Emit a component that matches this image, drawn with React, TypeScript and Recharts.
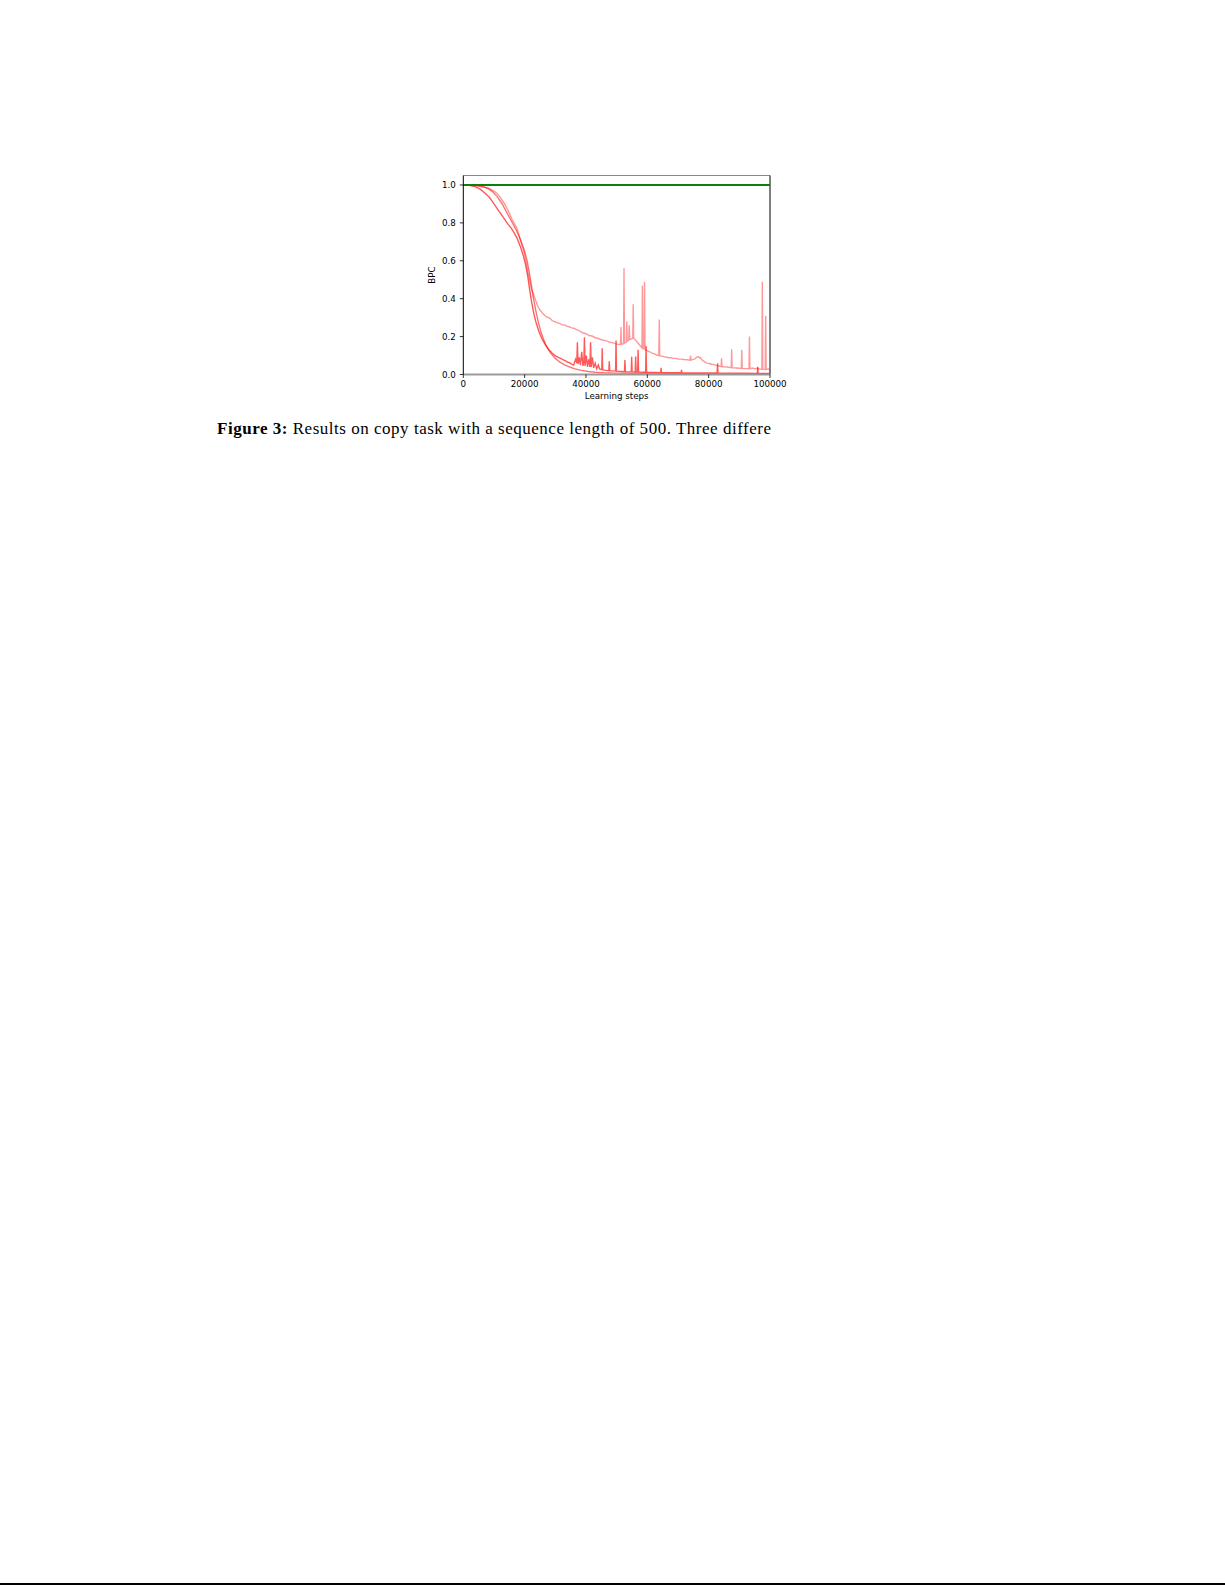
import React from 'react';
import { LineChart, Line, XAxis, YAxis, ReferenceLine, Label } from 'recharts';

// ---- tick labels ----
const xTicks = [0, 20000, 40000, 60000, 80000, 100000];
const yTicks = [0, 0.2, 0.4, 0.6, 0.8, 1.0];

// ---- series: [learning step, BPC] ----
const runA: [number, number][] = [
  [0, 1.0], [3000, 0.998], [6000, 0.992], [8000, 0.984], [9800, 0.97], [11000, 0.955],
  [12000, 0.936], [13000, 0.912], [14000, 0.885], [15000, 0.852], [16000, 0.815],
  [17400, 0.775], [18200, 0.735], [19000, 0.69], [19800, 0.645], [20400, 0.6],
  [21000, 0.545], [21600, 0.5], [22200, 0.45], [22800, 0.427], [23600, 0.39],
  [24300, 0.36], [25000, 0.34], [26000, 0.32], [27000, 0.305], [28300, 0.296],
  [29000, 0.284], [29800, 0.279], [30600, 0.272], [31400, 0.27], [32200, 0.262],
  [33000, 0.262], [33700, 0.255], [34500, 0.252], [35300, 0.246], [36100, 0.244],
  [37000, 0.235], [37800, 0.232], [38500, 0.224], [39100, 0.219], [40000, 0.215],
  [41000, 0.206], [42000, 0.203], [43000, 0.194], [44000, 0.19], [44600, 0.186],
  [45400, 0.182], [46200, 0.179], [47000, 0.176], [47800, 0.17], [48600, 0.168],
  [49500, 0.163], [50200, 0.16], [51000, 0.158], [51250, 0.16], [51400, 0.25],
  [51550, 0.16], [52250, 0.162], [52400, 0.56], [52550, 0.165], [53150, 0.17],
  [53300, 0.28], [53450, 0.175], [53950, 0.18], [54100, 0.26], [54250, 0.185],
  [55250, 0.19], [55400, 0.37], [55550, 0.19], [56000, 0.185], [57000, 0.165],
  [58000, 0.145], [58250, 0.14], [58400, 0.47], [58550, 0.138], [58950, 0.135],
  [59100, 0.49], [59250, 0.132], [60000, 0.125], [60800, 0.12], [61500, 0.113],
  [62200, 0.11], [63000, 0.103], [63750, 0.1], [63900, 0.29], [64050, 0.099],
  [64800, 0.097], [65500, 0.093], [66200, 0.092], [67000, 0.088], [67700, 0.088],
  [68500, 0.085], [69300, 0.085], [70000, 0.082], [71000, 0.081], [72000, 0.079],
  [73000, 0.078], [73950, 0.076], [74100, 0.1], [74250, 0.076], [75500, 0.082],
  [76000, 0.09], [76600, 0.095], [77000, 0.088], [77300, 0.09], [77800, 0.078],
  [78200, 0.072], [79400, 0.06], [80200, 0.058], [81000, 0.054], [81800, 0.052],
  [82500, 0.048], [83300, 0.046], [84050, 0.042], [84200, 0.085], [84350, 0.042],
  [85500, 0.04], [86400, 0.038], [87350, 0.036], [87500, 0.133], [87650, 0.036],
  [89000, 0.034], [90650, 0.032], [90800, 0.13], [90950, 0.032], [92000, 0.031],
  [93150, 0.03], [93300, 0.2], [93450, 0.03], [94200, 0.034], [95000, 0.03],
  [95800, 0.033], [96500, 0.029], [97350, 0.028], [97500, 0.49], [97650, 0.028],
  [98450, 0.027], [98600, 0.31], [98750, 0.026], [99400, 0.03], [100000, 0.022],
];

const runB: [number, number][] = [
  [0, 1.0], [2000, 0.998], [4000, 0.99], [5500, 0.978], [7000, 0.958], [8500, 0.935],
  [10000, 0.9], [11500, 0.865], [13000, 0.83], [14500, 0.795], [15500, 0.775],
  [16500, 0.75], [17500, 0.72], [18500, 0.68], [19500, 0.63], [20300, 0.58],
  [21000, 0.52], [21600, 0.45], [22300, 0.38], [23000, 0.32], [23800, 0.27],
  [24600, 0.23], [25600, 0.19], [26800, 0.155], [28000, 0.13], [29000, 0.112],
  [29900, 0.1], [31000, 0.09], [32500, 0.078], [33300, 0.072], [34000, 0.065],
  [34600, 0.062], [35300, 0.055], [36000, 0.05], [36600, 0.08], [37000, 0.06],
  [37200, 0.17], [37400, 0.055], [37800, 0.09], [38200, 0.05], [38600, 0.12],
  [39000, 0.045], [39300, 0.07], [39500, 0.196], [39700, 0.045], [40100, 0.1],
  [40500, 0.04], [40900, 0.08], [41300, 0.04], [41500, 0.17], [41700, 0.04],
  [42100, 0.09], [42500, 0.035], [43000, 0.06], [43500, 0.03], [44000, 0.05],
  [44500, 0.028], [45150, 0.026], [45300, 0.138], [45450, 0.025], [46500, 0.022],
  [47450, 0.02], [47600, 0.07], [47750, 0.02], [49650, 0.018], [49800, 0.18],
  [49950, 0.018], [51500, 0.016], [52550, 0.015], [52700, 0.076], [52850, 0.015],
  [54750, 0.014], [54900, 0.094], [55050, 0.014], [56050, 0.013], [56200, 0.095],
  [56350, 0.013], [56850, 0.013], [57000, 0.13], [57150, 0.013], [59450, 0.012],
  [59600, 0.15], [59750, 0.012], [62000, 0.011], [64350, 0.01], [64500, 0.035],
  [64650, 0.01], [68000, 0.009], [71000, 0.009], [71150, 0.025], [71300, 0.009],
  [75000, 0.008], [80000, 0.008], [82750, 0.008], [82900, 0.059], [83050, 0.008],
  [88000, 0.007], [92000, 0.007], [95850, 0.006], [96000, 0.04], [96150, 0.006],
  [100000, 0.005],
];

const runC: [number, number][] = [
  [0, 1.0], [4000, 0.998], [6000, 0.993], [8000, 0.982], [9500, 0.965], [11000, 0.94],
  [12500, 0.905], [14000, 0.86], [15500, 0.815], [17000, 0.77], [18000, 0.735],
  [19000, 0.695], [20000, 0.65], [20800, 0.6], [21500, 0.54], [22200, 0.47],
  [22900, 0.4], [23600, 0.34], [24400, 0.28], [25300, 0.225], [26300, 0.18],
  [27400, 0.14], [28600, 0.11], [30000, 0.085], [31500, 0.065], [33200, 0.05],
  [35000, 0.038], [36400, 0.03], [38500, 0.022], [40800, 0.016], [43000, 0.012],
  [46000, 0.009], [50000, 0.007], [55000, 0.006], [60000, 0.005], [70000, 0.004],
  [80000, 0.003], [90000, 0.003], [100000, 0.002],
];

const baseline: [number, number][] = [[0, 1.0], [100000, 1.0]];

const toRows = (pts: [number, number][]) => pts.map(([step, bpc]) => ({ step, bpc }));

const tickFont = { fontSize: 8.7, fill: '#000', fontFamily: 'DejaVu Sans' };

export default function App() {
  return (
    <div style={{ position: 'absolute', left: 0, top: 0, width: 1225, height: 1585, background: '#fff' }}>
      <div style={{ position: 'absolute', left: 400, top: 150 }}>
        <LineChart width={400} height={260} margin={{ top: 25.5, right: 30, bottom: 5.5, left: 0 }}>
          <XAxis
            dataKey="step"
            type="number"
            domain={[0, 100000]}
            ticks={xTicks}
            interval={0}
            height={30}
            tickSize={3.5}
            tickMargin={3}
            tick={tickFont}
            tickLine={{ stroke: '#000', strokeWidth: 0.8 }}
            axisLine={{ stroke: '#999', strokeWidth: 2 }}
            allowDataOverflow
          >
            <Label value="Learning steps" position="insideBottom" offset={5.5} style={{ fontSize: 8.7, fill: '#000', fontFamily: 'DejaVu Sans' }} />
          </XAxis>
          <YAxis
            dataKey="bpc"
            type="number"
            domain={[0, 1.05]}
            ticks={yTicks}
            interval={0}
            width={63.3}
            tickSize={3.5}
            tickMargin={4}
            tick={tickFont}
            tickFormatter={(v: number) => v.toFixed(1)}
            tickLine={{ stroke: '#000', strokeWidth: 0.8 }}
            axisLine={{ stroke: '#000', strokeWidth: 1 }}
            allowDataOverflow
          >
            <Label value="BPC" position="center" angle={-90} style={{ fontSize: 8.7, fill: '#000', fontFamily: 'DejaVu Sans' }} />
          </YAxis>
          <ReferenceLine y={1.05} stroke="#888" strokeWidth={1} />
          <ReferenceLine x={100000} stroke="#000" strokeWidth={1} />
          <Line data={toRows(runA)} dataKey="bpc" type="linear" stroke="#ff0000" strokeOpacity={0.4} strokeWidth={1.4} dot={false} activeDot={false} isAnimationActive={false} />
          <Line data={toRows(runC)} dataKey="bpc" type="linear" stroke="#ff0000" strokeOpacity={0.55} strokeWidth={1.4} dot={false} activeDot={false} isAnimationActive={false} />
          <Line data={toRows(runB)} dataKey="bpc" type="linear" stroke="#ff0000" strokeOpacity={0.65} strokeWidth={1.4} dot={false} activeDot={false} isAnimationActive={false} />
          <Line data={toRows(baseline)} dataKey="bpc" type="linear" stroke="#0a800a" strokeWidth={1.8} dot={false} activeDot={false} isAnimationActive={false} />
        </LineChart>
      </div>
      <div
        style={{
          position: 'absolute',
          left: 217,
          top: 421,
          fontFamily: '"Liberation Serif", "Times New Roman", serif',
          fontSize: 17,
          lineHeight: '16px',
          letterSpacing: '0.52px',
          color: '#000',
          whiteSpace: 'nowrap',
        }}
      >
        <b>Figure 3:</b> Results on copy task with a sequence length of 500. Three differe
      </div>
      <div style={{ position: 'absolute', left: 0, top: 1583, width: 1225, height: 2, background: '#000' }} />
    </div>
  );
}
